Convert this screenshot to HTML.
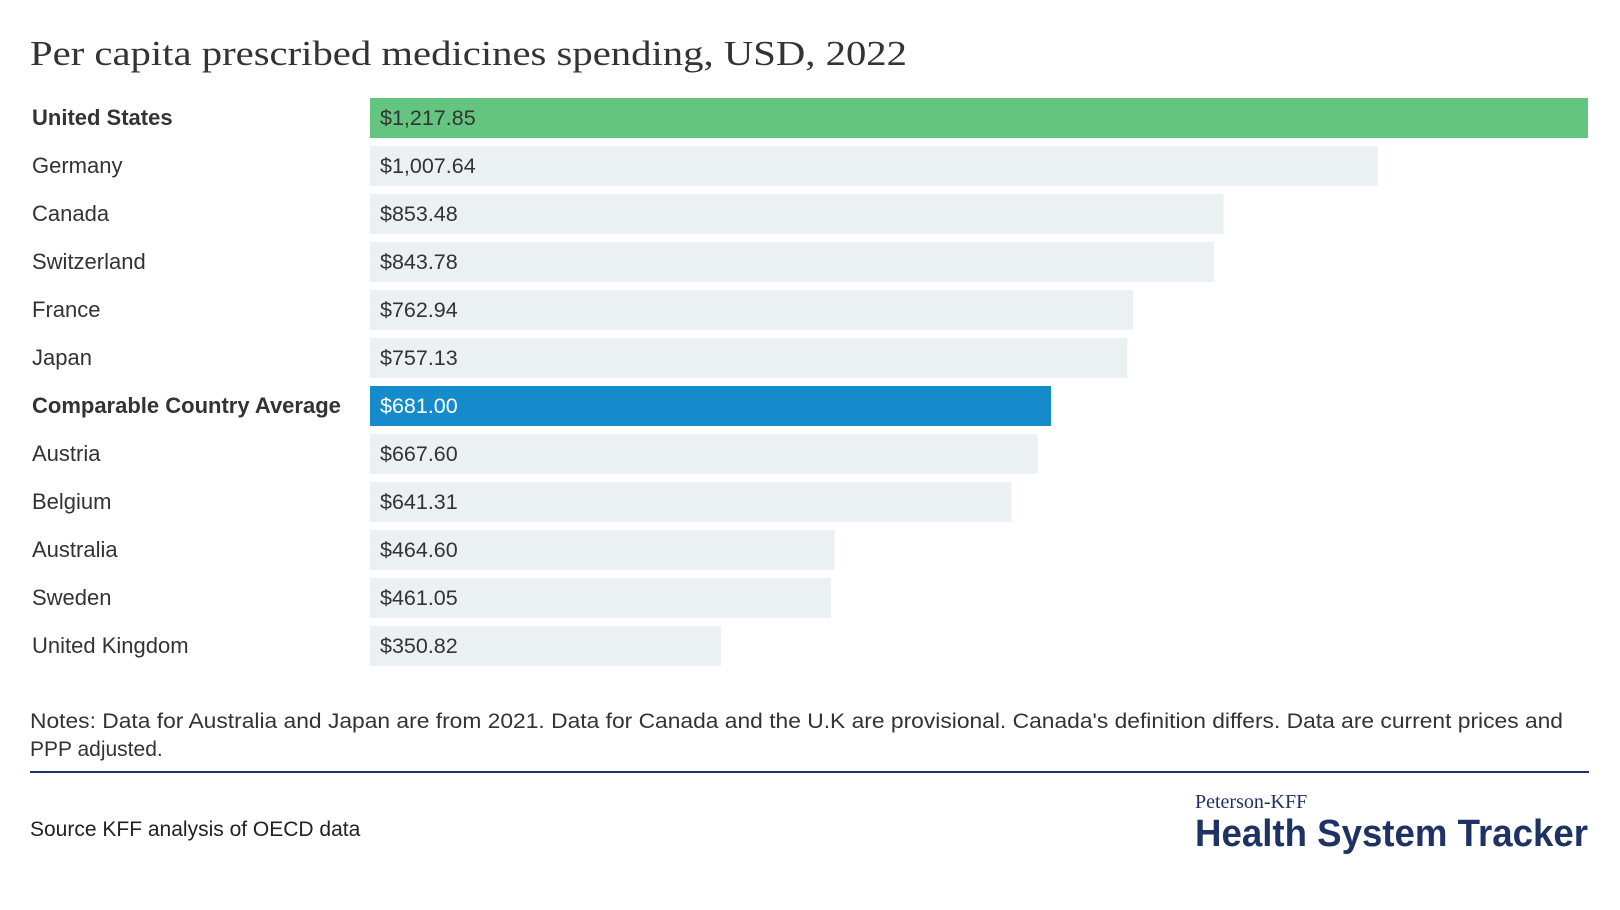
<!DOCTYPE html>
<html><head><meta charset="utf-8"><style>
body{margin:0;background:#fff;}
svg{display:block;font-family:"Liberation Sans",sans-serif;}
</style></head><body>
<svg id="chart" width="1620" height="910">
<text x="30" y="65" font-family="Liberation Serif, serif" font-size="35" fill="#333" textLength="877" lengthAdjust="spacingAndGlyphs">Per capita prescribed medicines spending, USD, 2022</text>
<g id="bars"></g>
<text x="30" y="728" font-size="21" fill="#333" textLength="1533" lengthAdjust="spacingAndGlyphs">Notes: Data for Australia and Japan are from 2021. Data for Canada and the U.K are provisional. Canada's definition differs. Data are current prices and</text>
<text x="30" y="756" font-size="21" fill="#333">PPP adjusted.</text>
<rect x="30" y="771" width="1559" height="2" fill="#1e3264"/>
<text x="30" y="836" font-size="21" fill="#222">Source KFF analysis of OECD data</text>
<text x="1195" y="808" font-family="Liberation Serif, serif" font-size="20" fill="#1e3264">Peterson-KFF</text>
<text x="1195" y="846" font-size="38" font-weight="bold" fill="#1e3264" textLength="393" lengthAdjust="spacingAndGlyphs">Health System Tracker</text>
</svg>
<script>
const categories=["United States","Germany","Canada","Switzerland","France","Japan","Comparable Country Average","Austria","Belgium","Australia","Sweden","United Kingdom"];
const values=[1217.85,1007.64,853.48,843.78,762.94,757.13,681.00,667.60,641.31,464.60,461.05,350.82];
const highlight=["United States","Comparable Country Average"];
const x0=370, xMax=1588, maxV=1217.85;
const xs=v=>(v/maxV)*(xMax-x0);
const yRow=i=>98+i*48.0;
const g=document.getElementById('bars');
const ns="http://www.w3.org/2000/svg";
const fmt=v=>'$'+v.toLocaleString('en-US',{minimumFractionDigits:2,maximumFractionDigits:2});
categories.forEach((c,i)=>{
  const y=yRow(i);
  const hl=highlight.includes(c);
  const lab=document.createElementNS(ns,'text');
  
  
  lab.setAttribute('x',32);lab.setAttribute('y',y+27);
  lab.setAttribute('font-size','22');lab.setAttribute('fill','#333');
  if(hl)lab.setAttribute('font-weight','bold');
  lab.textContent=c;g.appendChild(lab);
  const r=document.createElementNS(ns,'rect');
  
  
  r.setAttribute('x',x0);r.setAttribute('y',y);
  r.setAttribute('width',xs(values[i]));r.setAttribute('height',40);
  r.setAttribute('fill',c==="United States"?'#63c57f':(c==="Comparable Country Average"?'#168bcb':'#ebf0f2'));
  g.appendChild(r);
  const t=document.createElementNS(ns,'text');
  
  
  t.setAttribute('x',x0+10);t.setAttribute('y',y+27);
  t.setAttribute('font-size','21.5');
  t.setAttribute('fill',c==="Comparable Country Average"?'#fff':'#333');
  t.textContent=fmt(values[i]);g.appendChild(t);
});
</script>
</body></html>
